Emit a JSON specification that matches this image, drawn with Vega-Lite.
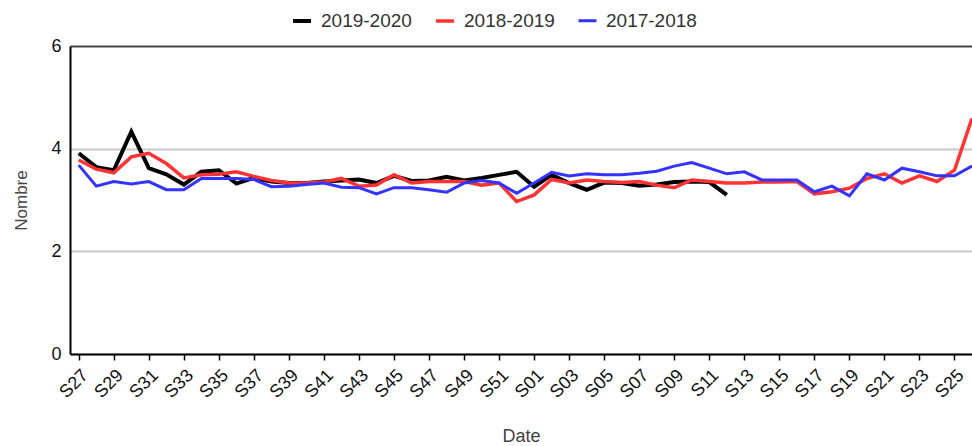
{
  "$schema": "https://vega.github.io/schema/vega-lite/v6.json",
  "width": 902,
  "height": 308,
  "autosize": {"type": "none"},
  "padding": {"left": 70, "top": 46, "right": 0, "bottom": 92},
  "background": "white",
  "config": {"view": {"stroke": null}, "font": "Liberation Sans"},
  "data": {
    "values": [
      {"w": "S27", "2019-2020": 3.91, "2018-2019": 3.78, "2017-2018": 3.68},
      {"w": "S28", "2019-2020": 3.64, "2018-2019": 3.6, "2017-2018": 3.27},
      {"w": "S29", "2019-2020": 3.58, "2018-2019": 3.53, "2017-2018": 3.36},
      {"w": "S30", "2019-2020": 4.33, "2018-2019": 3.84, "2017-2018": 3.31},
      {"w": "S31", "2019-2020": 3.62, "2018-2019": 3.91, "2017-2018": 3.36},
      {"w": "S32", "2019-2020": 3.5, "2018-2019": 3.71, "2017-2018": 3.2},
      {"w": "S33", "2019-2020": 3.3, "2018-2019": 3.43, "2017-2018": 3.2},
      {"w": "S34", "2019-2020": 3.55, "2018-2019": 3.49, "2017-2018": 3.42},
      {"w": "S35", "2019-2020": 3.58, "2018-2019": 3.5, "2017-2018": 3.42},
      {"w": "S36", "2019-2020": 3.32, "2018-2019": 3.55, "2017-2018": 3.42},
      {"w": "S37", "2019-2020": 3.43, "2018-2019": 3.46, "2017-2018": 3.4},
      {"w": "S38", "2019-2020": 3.36, "2018-2019": 3.38, "2017-2018": 3.26},
      {"w": "S39", "2019-2020": 3.33, "2018-2019": 3.33, "2017-2018": 3.27},
      {"w": "S40", "2019-2020": 3.33, "2018-2019": 3.33, "2017-2018": 3.3},
      {"w": "S41", "2019-2020": 3.36, "2018-2019": 3.35, "2017-2018": 3.33},
      {"w": "S42", "2019-2020": 3.38, "2018-2019": 3.42, "2017-2018": 3.25},
      {"w": "S43", "2019-2020": 3.4, "2018-2019": 3.27, "2017-2018": 3.24},
      {"w": "S44", "2019-2020": 3.33, "2018-2019": 3.29, "2017-2018": 3.12},
      {"w": "S45", "2019-2020": 3.47, "2018-2019": 3.49, "2017-2018": 3.24},
      {"w": "S46", "2019-2020": 3.37, "2018-2019": 3.33, "2017-2018": 3.24},
      {"w": "S47", "2019-2020": 3.38, "2018-2019": 3.36, "2017-2018": 3.2},
      {"w": "S48", "2019-2020": 3.45, "2018-2019": 3.36, "2017-2018": 3.15},
      {"w": "S49", "2019-2020": 3.38, "2018-2019": 3.36, "2017-2018": 3.33},
      {"w": "S50", "2019-2020": 3.43, "2018-2019": 3.29, "2017-2018": 3.38},
      {"w": "S51", "2019-2020": 3.49, "2018-2019": 3.33, "2017-2018": 3.33},
      {"w": "S52", "2019-2020": 3.55, "2018-2019": 2.97, "2017-2018": 3.13},
      {"w": "S01", "2019-2020": 3.26, "2018-2019": 3.1, "2017-2018": 3.33},
      {"w": "S02", "2019-2020": 3.49, "2018-2019": 3.4, "2017-2018": 3.54},
      {"w": "S03", "2019-2020": 3.33, "2018-2019": 3.33, "2017-2018": 3.47},
      {"w": "S04", "2019-2020": 3.2, "2018-2019": 3.39, "2017-2018": 3.51},
      {"w": "S05", "2019-2020": 3.34, "2018-2019": 3.36, "2017-2018": 3.49},
      {"w": "S06", "2019-2020": 3.33, "2018-2019": 3.34, "2017-2018": 3.49},
      {"w": "S07", "2019-2020": 3.28, "2018-2019": 3.36, "2017-2018": 3.52},
      {"w": "S08", "2019-2020": 3.3, "2018-2019": 3.29, "2017-2018": 3.56},
      {"w": "S09", "2019-2020": 3.35, "2018-2019": 3.24, "2017-2018": 3.66},
      {"w": "S10", "2019-2020": 3.36, "2018-2019": 3.39, "2017-2018": 3.73},
      {"w": "S11", "2019-2020": 3.35, "2018-2019": 3.36, "2017-2018": 3.62},
      {"w": "S12", "2019-2020": 3.1, "2018-2019": 3.33, "2017-2018": 3.51},
      {"w": "S13", "2018-2019": 3.33, "2017-2018": 3.55},
      {"w": "S14", "2018-2019": 3.35, "2017-2018": 3.39},
      {"w": "S15", "2018-2019": 3.35, "2017-2018": 3.39},
      {"w": "S16", "2018-2019": 3.36, "2017-2018": 3.39},
      {"w": "S17", "2018-2019": 3.12, "2017-2018": 3.16},
      {"w": "S18", "2018-2019": 3.16, "2017-2018": 3.27},
      {"w": "S19", "2018-2019": 3.23, "2017-2018": 3.08},
      {"w": "S20", "2018-2019": 3.42, "2017-2018": 3.51},
      {"w": "S21", "2018-2019": 3.51, "2017-2018": 3.39},
      {"w": "S22", "2018-2019": 3.33, "2017-2018": 3.62},
      {"w": "S23", "2018-2019": 3.47, "2017-2018": 3.55},
      {"w": "S24", "2018-2019": 3.36, "2017-2018": 3.47},
      {"w": "S25", "2018-2019": 3.58, "2017-2018": 3.47},
      {"w": "S26", "2018-2019": 4.59, "2017-2018": 3.66}
    ]
  },
  "transform": [
    {"fold": ["2019-2020", "2018-2019", "2017-2018"], "as": ["serie", "valeur"]},
    {"filter": "isValid(datum.valeur)"}
  ],
  "mark": {"type": "line", "strokeJoin": "miter"},
  "encoding": {
    "x": {
      "field": "w",
      "type": "ordinal",
      "scale": {
        "type": "point",
        "padding": 0.25,
        "align": 1,
        "domain": ["S27","S28","S29","S30","S31","S32","S33","S34","S35","S36","S37","S38","S39","S40","S41","S42","S43","S44","S45","S46","S47","S48","S49","S50","S51","S52","S01","S02","S03","S04","S05","S06","S07","S08","S09","S10","S11","S12","S13","S14","S15","S16","S17","S18","S19","S20","S21","S22","S23","S24","S25","S26"]
      },
      "axis": {
        "values": ["S27","S29","S31","S33","S35","S37","S39","S41","S43","S45","S47","S49","S51","S01","S03","S05","S07","S09","S11","S13","S15","S17","S19","S21","S23","S25"],
        "title": "Date",
        "grid": false,
        "labelAngle": -45,
        "labelFontSize": 18,
        "labelColor": "#111",
        "labelPadding": 6,
        "domainColor": "#000",
        "domainWidth": 2,
        "tickColor": "#000",
        "tickWidth": 1.5,
        "tickSize": 6,
        "titleFontSize": 18,
        "titleFontWeight": "normal",
        "titleColor": "#444",
        "titlePadding": 26
      }
    },
    "y": {
      "field": "valeur",
      "type": "quantitative",
      "scale": {"domain": [0, 6], "nice": false},
      "axis": {
        "values": [0, 2, 4, 6],
        "title": "Nombre",
        "ticks": false,
        "domainColor": "#000",
        "domainWidth": 2,
        "gridColor": {"condition": {"test": "datum.value === 6", "value": "#444"}, "value": "#c8c8c8"},
        "gridWidth": 2,
        "labelFontSize": 18,
        "labelColor": "#111",
        "labelPadding": 9,
        "titleFontSize": 17,
        "titleFontWeight": "normal",
        "titleColor": "#444",
        "titlePadding": 20
      }
    },
    "color": {
      "field": "serie",
      "type": "nominal",
      "scale": {"domain": ["2019-2020", "2018-2019", "2017-2018"], "range": ["#000000", "#ff3333", "#3333ff"]},
      "legend": {
        "orient": "none",
        "legendX": 221,
        "legendY": -36,
        "direction": "horizontal",
        "title": null,
        "symbolType": "stroke",
        "symbolSize": 324,
        "symbolStrokeWidth": 4,
        "labelFontSize": 19,
        "labelColor": "#333",
        "labelOffset": 8,
        "columnPadding": 17
      }
    },
    "strokeWidth": {
      "field": "serie",
      "type": "nominal",
      "scale": {"domain": ["2019-2020", "2018-2019", "2017-2018"], "range": [4, 3, 3]},
      "legend": null
    }
  }
}
